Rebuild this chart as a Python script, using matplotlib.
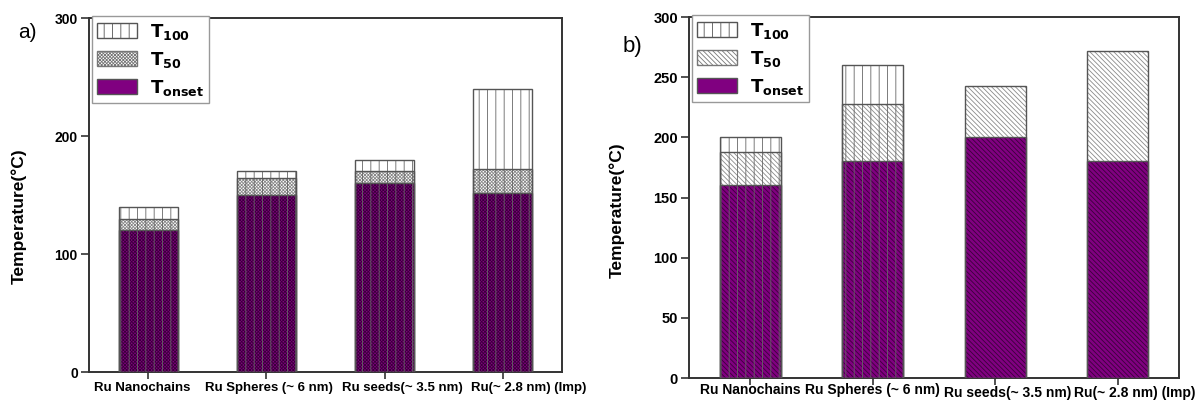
import numpy as np
import matplotlib
matplotlib.use('Agg')
from matplotlib import pyplot as plt
from matplotlib.patches import Patch

plt.rcParams['font.family'] = ['Liberation Sans', 'DejaVu Sans']
plt.rcParams['hatch.linewidth'] = 0.6

# Категории (общие для обеих панелей)
categories = ['Ru Nanochains', 'Ru Spheres (~ 6 nm)', 'Ru seeds(~ 3.5 nm)', 'Ru(~ 2.8 nm) (Imp)']

# Панель a)
a_onset = [120, 150, 160, 152]
a_t50 = [130, 164, 170, 172]
a_t100 = [140, 170, 180, 240]

# Панель b) - для двух последних образцов T100 нет
b_onset = [160, 180, 200, 180]
b_t50 = [188, 228, 243, 272]
b_t100 = [200, 260, np.nan, np.nan]

PURPLE = '#800080'
EDGE = '#555555'


def draw_panel(ax, onset, t50, t100, hatch, yticks, fs_y, fs_x, lab_xy, lab_dx, lab_y):
    x = np.arange(1, len(categories) + 1)
    w = 0.5
    onset = np.array(onset, float)
    t50 = np.array(t50, float)
    t100 = np.array(t100, float)
    has100 = ~np.isnan(t100)

    # Фон T100
    ax.bar(x[has100], t100[has100], w, color='white', linewidth=0, zorder=2)
    # T50
    ax.bar(x, t50, w, facecolor='white', edgecolor='#8a8a8a', hatch=hatch, linewidth=0, zorder=3)
    # Tonset
    ax.bar(x, onset, w, facecolor=PURPLE, edgecolor='#3a003a', hatch=hatch, linewidth=0, zorder=4)
    # вертикальная штриховка T100 поверх всего столбца
    ax.bar(x[has100], t100[has100], w, facecolor='none', edgecolor='#666666', hatch='||',
           linewidth=0, zorder=5)
    # контуры
    for h in (onset, t50):
        ax.bar(x, h, w, facecolor='none', edgecolor=EDGE, linewidth=1, zorder=6)
    ax.bar(x[has100], t100[has100], w, facecolor='none', edgecolor=EDGE, linewidth=1, zorder=6)

    ax.set_xlim(0.5, len(categories) + 0.5)
    ax.set_ylim(0, 300)
    ax.set_yticks(yticks)
    ax.set_xticks(x)
    ax.set_xticklabels([])
    # подписи категорий стоят не строго по центру тиков, как в оригинале
    for xi, name, dx, yy in zip(x, categories, lab_dx, lab_y):
        ax.text(xi + dx, yy, name, transform=ax.get_xaxis_transform(), ha='center', va='center',
                fontsize=fs_x, fontweight='bold')
    for lab in ax.get_yticklabels():
        lab.set_fontweight('bold')
        lab.set_fontsize(fs_y)
    ax.tick_params(axis='y', direction='out', length=6, width=1.2, color='#333333', pad=2)
    ax.tick_params(axis='x', direction='out', length=5, width=1.2, color='#333333', pad=3)
    for s in ax.spines.values():
        s.set_color('#333333')
        s.set_linewidth(1.4)
    ax.set_ylabel('Temperature(°C)', fontsize=12.5, fontweight='bold')
    ax.yaxis.set_label_coords(*lab_xy)

    handles = [Patch(facecolor='white', edgecolor=EDGE, hatch='||', linewidth=1),
               Patch(facecolor='white', edgecolor='#777777', hatch=hatch, linewidth=1),
               Patch(facecolor=PURPLE, edgecolor=EDGE, linewidth=1)]
    labels = [r'$\mathbf{T_{100}}$', r'$\mathbf{T_{50}}$', r'$\mathbf{T_{onset}}$']
    leg = ax.legend(handles, labels, loc='upper left', bbox_to_anchor=(0.006, 1.005),
                    fontsize=13, frameon=True, fancybox=False, framealpha=1,
                    edgecolor='#999999', handlelength=2.2, handleheight=0.85,
                    labelspacing=0.45, handletextpad=0.7, borderpad=0.3, borderaxespad=0)
    leg.get_frame().set_linewidth(1)
    leg.set_zorder(10)


fig = plt.figure(figsize=(12.04, 4.03), dpi=100)
ax1 = fig.add_axes([0.0739, 0.0769, 0.3929, 0.8784])
ax2 = fig.add_axes([0.5723, 0.0620, 0.4070, 0.8958])

draw_panel(ax1, a_onset, a_t50, a_t100, 'x' * 10, [0, 100, 200, 300], 10, 9.5,
           (-0.131, 0.44), [-0.05, 0.02, 0.15, 0.22], [-0.045] * 4)
draw_panel(ax2, b_onset, b_t50, b_t100, '\\' * 7, [0, 50, 100, 150, 200, 250, 300], 10.5, 10,
           (-0.131, 0.465), [0.0, 0.0, 0.1, 0.14], [-0.033, -0.033, -0.042, -0.042])

fig.text(0.0149, 0.92, 'a)', fontsize=15, va='center')
fig.text(0.517, 0.885, 'b)', fontsize=16, va='center')

fig.savefig('out.png', dpi=100)
